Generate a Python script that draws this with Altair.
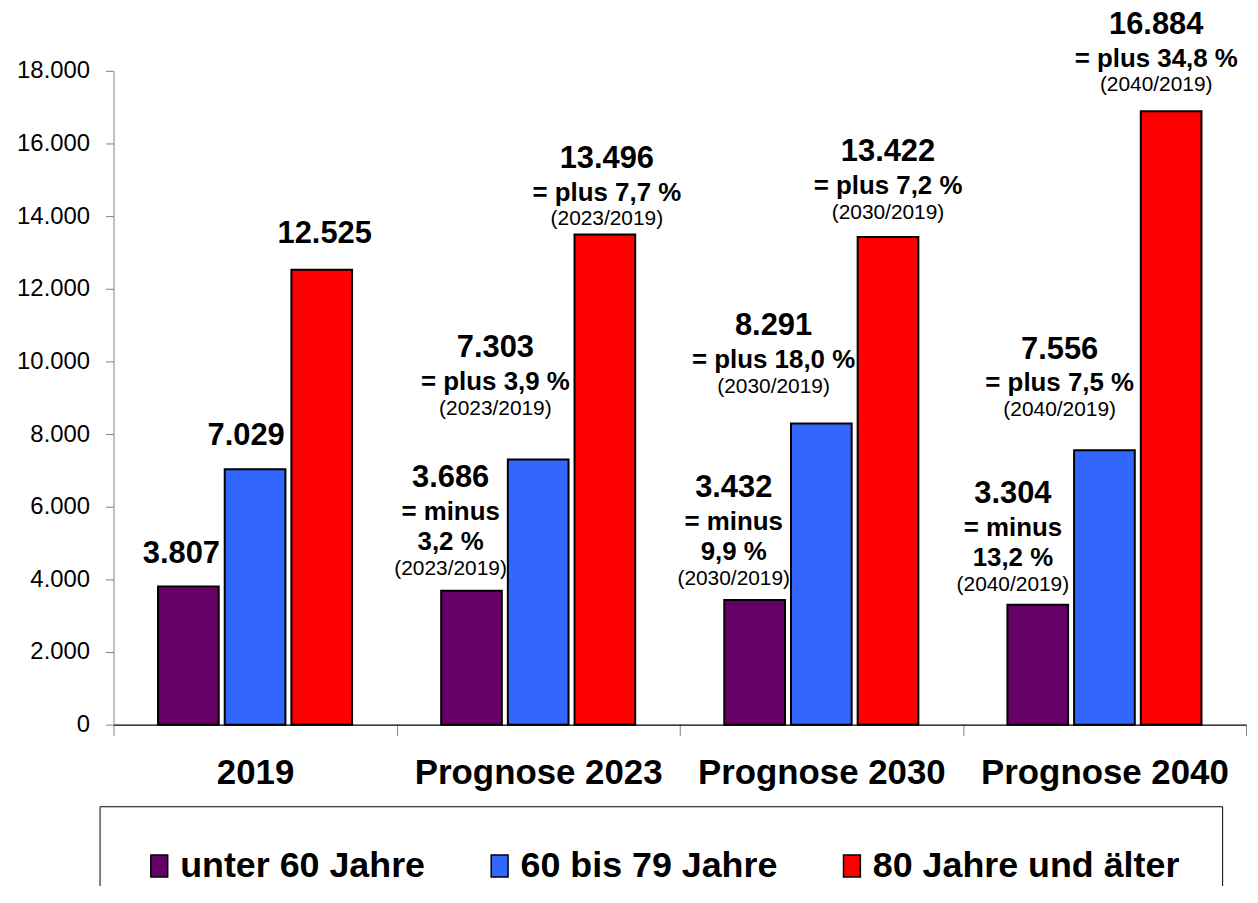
import altair as alt
import pandas as pd

# ---------------- data ----------------
CATEGORIES = ["2019", "Prognose 2023", "Prognose 2030", "Prognose 2040"]
SERIES = ["unter 60 Jahre", "60 bis 79 Jahre", "80 Jahre und älter"]

UNDER_60 = [3807, 3686, 3432, 3304]
AGE_60_79 = [7029, 7303, 8291, 7556]
AGE_80_PLUS = [12525, 13496, 13422, 16884]

# change vs. 2019 as printed in the chart (one entry per text line)
CHANGE_UNDER_60 = [[], ["= minus", "3,2 %"], ["= minus", "9,9 %"], ["= minus", "13,2 %"]]
CHANGE_60_79 = [[], ["= plus 3,9 %"], ["= plus 18,0 %"], ["= plus 7,5 %"]]
CHANGE_80_PLUS = [[], ["= plus 7,7 %"], ["= plus 7,2 %"], ["= plus 34,8 %"]]
RATIO_LABELS = ["", "(2023/2019)", "(2030/2019)", "(2040/2019)"]

Y_TICKS = [0, 2000, 4000, 6000, 8000, 10000, 12000, 14000, 16000, 18000]

# ---------------- styling / layout ----------------
COLORS = ["#660066", "#3366FF", "#FF0000"]
FONT = "Liberation Sans"
# label placement (px) of the value label centre relative to the top centre of its bar
LABEL_ANCHOR = [
    [(-7, -32), (-9, -33), (3, -36)],
    [(-21, -113), (-43, -112), (2, -76)],
    [(-21, -112), (-48, -98), (0, -85)],
    [(-25, -111), (-45, -101), (-15, -87)],
]
GAP_NUM_CHG = 34
GAP_CHG_CHG = 30
GAP_CHG_RATIO = 27

SERIES_VALUES = [UNDER_60, AGE_60_79, AGE_80_PLUS]
SERIES_CHANGES = [CHANGE_UNDER_60, CHANGE_60_79, CHANGE_80_PLUS]


def de_thousands(v):
    return f"{v:,}".replace(",", ".")


bar_rows = []
label_rows = []
for i, cat in enumerate(CATEGORIES):
    for j, ser in enumerate(SERIES):
        v = SERIES_VALUES[j][i]
        bar_rows.append({"category": cat, "series": ser, "value": v})
        dx, dy = LABEL_ANCHOR[i][j]
        label_rows.append({"category": cat, "series": ser, "value": v,
                           "text": de_thousands(v), "kind": "num", "dx": dx, "dy": dy})
        y = dy
        changes = SERIES_CHANGES[j][i]
        for k, part in enumerate(changes):
            y += GAP_NUM_CHG if k == 0 else GAP_CHG_CHG
            label_rows.append({"category": cat, "series": ser, "value": v,
                               "text": part, "kind": "chg", "dx": dx, "dy": y})
        if changes:
            y += GAP_CHG_RATIO
            label_rows.append({"category": cat, "series": ser, "value": v,
                               "text": RATIO_LABELS[i], "kind": "ratio", "dx": dx, "dy": y})

bars_df = pd.DataFrame(bar_rows)
labels_df = pd.DataFrame(label_rows)

x_enc = alt.X(
    "category:N", sort=CATEGORIES,
    scale=alt.Scale(paddingInner=0, paddingOuter=0),
    axis=alt.Axis(title=None, labelAngle=0, labelFontSize=35, labelFontWeight="bold",
                  labelFont=FONT, labelColor="black", labelPadding=20, labelLimit=500,
                  tickSize=11, tickColor="#808080", tickBand="extent",
                  domainColor="black", domainWidth=1.2),
)
xoff_enc = alt.XOffset("series:N", sort=SERIES,
                       scale=alt.Scale(domain=SERIES, paddingInner=0.09, paddingOuter=0.668))
y_enc = alt.Y(
    "value:Q",
    scale=alt.Scale(domain=[0, 18000], nice=False),
    axis=alt.Axis(title=None, values=Y_TICKS, grid=False,
                  labelExpr="replace(format(datum.value, ','), ',', '.')",
                  labelFontSize=24, labelFont=FONT, labelColor="black", labelPadding=16,
                  tickSize=8, tickColor="#808080", domainColor="#808080"),
)

bars = alt.Chart(bars_df).mark_bar(stroke="black", strokeWidth=2).encode(
    x=x_enc,
    xOffset=xoff_enc,
    y=y_enc,
    color=alt.Color(
        "series:N", sort=SERIES,
        scale=alt.Scale(domain=SERIES, range=COLORS),
        legend=alt.Legend(
            title=None, orient="none", legendX=-14, legendY=739, direction="horizontal",
            labelFont=FONT, labelFontSize=36, labelFontWeight="bold", labelColor="black",
            labelLimit=500, labelOffset=3, columnPadding=56, padding=42,
            symbolType="M-0.77,-1H0.77V1H-0.77Z", symbolSize=484,
            symbolStrokeColor="black", symbolStrokeWidth=1.5, symbolOpacity=1,
            strokeColor="black", fillColor="white",
        ),
    ),
)


def text_layer(kind, size, weight):
    return alt.Chart(labels_df).transform_filter(
        alt.datum.kind == kind
    ).mark_text(
        font=FONT, fontSize=size, fontWeight=weight, color="black",
        align="center", baseline="middle",
        dx=alt.expr("datum.dx"), dy=alt.expr("datum.dy"),
    ).encode(x=x_enc, xOffset=xoff_enc, y=y_enc, text="text:N")


chart = alt.layer(
    bars,
    text_layer("num", 31, "bold"),
    text_layer("chg", 26, "bold"),
    text_layer("ratio", 21, "normal"),
).properties(
    width=1138, height=657,
    padding={"left": 106, "top": 61, "right": 4, "bottom": 160},
    autosize=alt.AutoSizeParams(type="none"),
    background="white",
).configure_view(stroke=None)

chart.save("out.html", embed_options={"renderer": "svg", "actions": False})
